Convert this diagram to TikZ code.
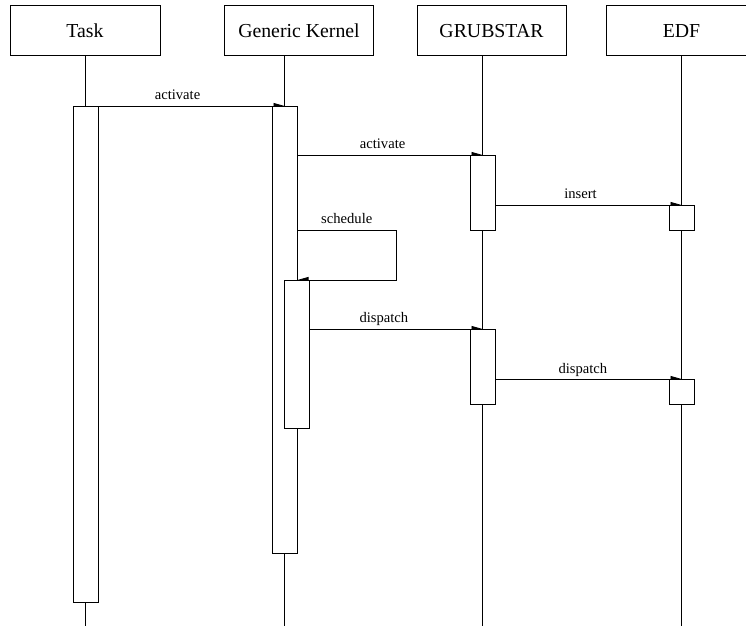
\documentclass[tikz,border=0pt]{standalone}
\usepackage{fontspec}
\setmainfont{Liberation Serif}
\usetikzlibrary{arrows.meta,calc}
\pgfdeclarelayer{bg}
\pgfsetlayers{bg,main}
\begin{document}
\begin{tikzpicture}[x=0.5pt,y=-0.5pt,
  line width=0.5pt,
  actor/.style={draw,fill=white,rectangle,inner sep=0pt,minimum height=25pt,
    font=\fontsize{9.9}{12}\selectfont},
  actbox/.style={draw,fill=white,rectangle,inner sep=0pt,minimum width=12.5pt,anchor=north},
  msg/.style={-{Triangle[length=5.5pt,width=3pt]}},
  msglabel/.style={font=\fontsize{7.3}{9}\selectfont,anchor=base,inner sep=0pt,yshift=3pt}]
\clip (0,0) rectangle (746,626);

% participants
\node[actor,minimum width=75pt]   (task) at (85,31)    {Task};
\node[actor,minimum width=74.5pt] (gk)   at (299,31)   {Generic Kernel};
\node[actor,minimum width=74.5pt] (grub) at (491.5,31) {GRUBSTAR};
\node[actor,minimum width=75pt]   (edf)  at (681.5,31) {EDF};

% activation bars
\node[actbox,minimum height=248pt]  (t1) at (85.5,106)  {};
\node[actbox,minimum height=223.5pt](k1) at (284.5,106) {};
\node[actbox,minimum height=37.5pt] (g1) at (482.5,155) {};
\node[actbox,minimum height=12.5pt] (e1) at (681.5,205) {};
\node[actbox,minimum height=74pt]   (k2) at (296.5,280) {};
\node[actbox,minimum height=37.5pt] (g2) at (482.5,329) {};
\node[actbox,minimum height=12.5pt] (e2) at (681.5,379) {};

\coordinate (bottom) at (0,626);
\coordinate (loop) at (396,230);

\begin{pgfonlayer}{bg}
  % lifelines
  \draw (task.south) -- (task.south |- bottom);
  \draw (k1.north |- gk.south) -- (k1.north |- bottom);
  \draw (g1.north |- grub.south) -- (g1.north |- bottom);
  \draw (e1.north |- edf.south) -- (e1.north |- bottom);
  % messages
  \draw[msg] (t1.east |- k1.north) -- (k1.north);
  \draw[msg] (k1.east |- g1.north) -- (g1.north);
  \draw[msg] (g1.east |- e1.north) -- (e1.north);
  \draw[msg] (k1.east |- loop) -- (loop) |- (k2.north -| k1.east);
  \draw[msg] (k2.east |- g2.north) -- (g2.north);
  \draw[msg] (g2.east |- e2.north) -- (e2.north);
\end{pgfonlayer}

% message labels
\node[msglabel] at ($(t1.east |- k1.north)!0.425!(k1.north)$) {activate};
\node[msglabel] at ($(k1.east |- g1.north)!0.46!(g1.north)$) {activate};
\node[msglabel] at ($(g1.east |- e1.north)!0.457!(e1.north)$) {insert};
\node[msglabel] at ($(k1.east |- loop)!0.5!(loop)$) {schedule};
\node[msglabel] at ($(k2.east |- g2.north)!0.43!(g2.north)$) {dispatch};
\node[msglabel] at ($(g2.east |- e2.north)!0.47!(e2.north)$) {dispatch};
\end{tikzpicture}
\end{document}
